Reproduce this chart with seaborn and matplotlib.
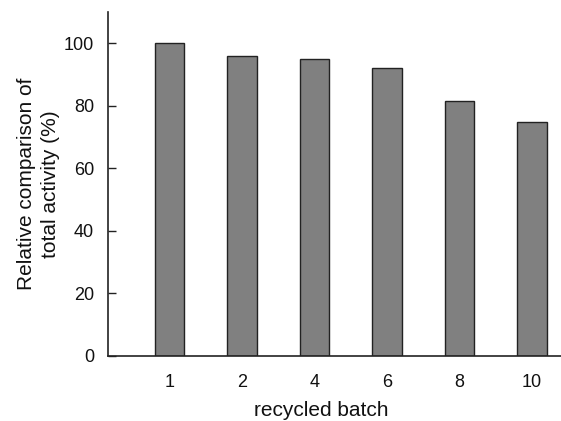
import matplotlib
matplotlib.use("Agg")
from matplotlib import pyplot as plt
import seaborn as sns
import pandas as pd

batches = ["1", "2", "4", "6", "8", "10"]
activity = [100, 95.8, 94.9, 92.0, 81.6, 74.7]

df = pd.DataFrame({"batch": batches, "activity": activity})

sns.set_style("white")
plt.rcParams['font.family'] = ['Liberation Sans', 'DejaVu Sans']

fig = plt.figure(figsize=(5.61, 4.21), dpi=100)
ax = fig.add_axes([0.1925, 0.1544, 0.8075, 0.8171])

sns.barplot(data=df, x="batch", y="activity", order=batches, color="#808080",
            saturation=1, width=0.41, edgecolor="#222222", linewidth=1.0, ax=ax)

ax.set_xlim(-0.85, 5.4)
ax.set_ylim(0, 110)
ax.set_yticks([0, 20, 40, 60, 80, 100])

for side in ["top", "right"]:
    ax.spines[side].set_visible(False)
for side in ["left", "bottom"]:
    ax.spines[side].set_color("#222222")
    ax.spines[side].set_linewidth(1.2)

ax.tick_params(axis="y", direction="in", length=6, width=1.0, color="#222222",
               pad=10, labelsize=13, left=True, labelcolor="#111111")
ax.tick_params(axis="x", length=0, pad=13, labelsize=13, labelcolor="#111111")

ax.set_xlabel("recycled batch", fontsize=15, labelpad=7, color="#111111", x=0.47)
ax.set_ylabel("Relative comparison of\ntotal activity (%)", fontsize=15,
              labelpad=3, color="#111111", linespacing=1.3)

fig.savefig("out.png", dpi=100)
